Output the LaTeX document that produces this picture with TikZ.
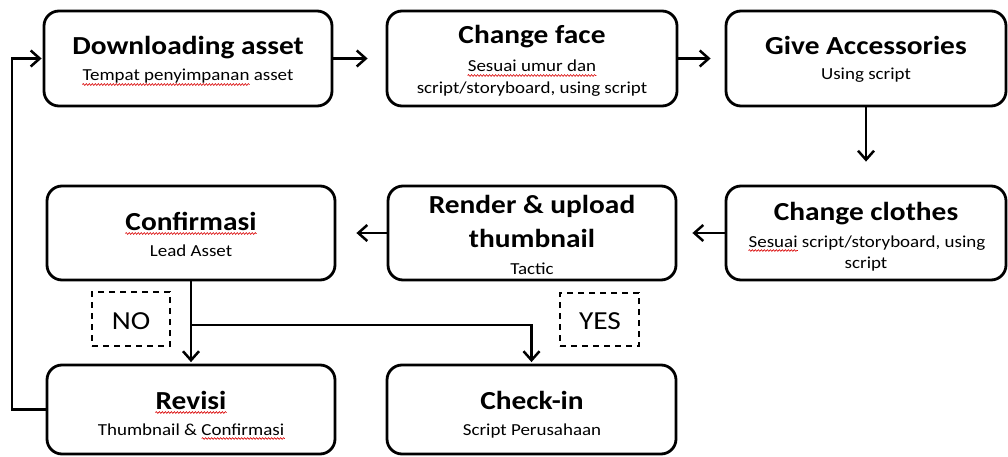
\documentclass[tikz,border=0pt]{standalone}
\usepackage{fontspec}
\setmainfont[FakeStretch=1.13]{Carlito}
\usetikzlibrary{arrows.meta,decorations.pathmorphing}
\tikzset{
  box/.style={draw, line width=2.8pt, rounded corners=15pt, inner sep=0pt},
  ttl/.style={anchor=base, inner sep=0pt, font=\fontsize{26}{34}\selectfont\bfseries},
  sub/.style={anchor=base, inner sep=0pt, font=\fontsize{16.8}{22}\selectfont},
  ph/.style={anchor=base west, inner sep=0pt},
  yn/.style={draw, line width=1.8pt, dash pattern=on 6pt off 5pt, inner sep=0pt},
  ynt/.style={anchor=base, inner sep=0pt, font=\fontsize{26}{30}\selectfont},
  arr/.style={line width=2.5pt, -{Straight Barb[length=9pt,width=16pt,line width=2.5pt]}},
  squig/.style={draw=red!85!black, line width=0.6pt, decorate,
    decoration={snake, amplitude=0.9pt, segment length=3pt}}
}
\newcommand\squ[1]{\draw[squig] ([yshift=-3.5pt]#1.base west) -- ([yshift=-3.5pt]#1.base east);}
\begin{document}
\begin{tikzpicture}[x=1pt,y=-1pt]
\useasboundingbox (0,0) rectangle (1008,457);
% boxes
\node[box, minimum width=288pt, minimum height=95pt] (dl) at (188,58.5) {};
\node[box, minimum width=290pt, minimum height=95pt] (cf) at (532,58.5) {};
\node[box, minimum width=280pt, minimum height=95pt] (ga) at (866,58.5) {};
\node[box, minimum width=280pt, minimum height=94pt] (cc) at (866,233) {};
\node[box, minimum width=288pt, minimum height=94pt] (ru) at (532,233) {};
\node[box, minimum width=288pt, minimum height=94pt] (co) at (191,233) {};
\node[box, minimum width=288pt, minimum height=89pt] (rv) at (191,409.5) {};
\node[box, minimum width=289pt, minimum height=89pt] (ci) at (531.5,409.5) {};
% texts
\node[ttl] (dlt) at (188,55) {Downloading asset};
\node[sub] (dls) at (188,81) {Tempat penyimpanan asset};
\node[ttl] (cft) at (532,44) {Change face};
\node[sub] (cfs1) at (532,72) {Sesuai umur dan};
\node[sub] (cfs2) at (532,94) {script/storyboard, using script};
\node[ttl] (gat) at (866,55) {Give Accessories};
\node[sub] (gas) at (866,80) {Using script};
\node[ttl] (cct) at (866,220) {Change clothes};
\node[sub] (ccs1) at (867,247) {Sesuai script/storyboard, using};
\node[sub] (ccs2) at (866,268) {script};
\node[ttl] (rut1) at (532,213) {Render \& upload};
\node[ttl] (rut2) at (532,247) {thumbnail};
\node[sub] (rus) at (532,274) {Tactic};
\node[ttl] (cot) at (191,230) {Confirmasi};
\node[sub] (cos) at (191,256) {Lead Asset};
\node[ttl] (rvt) at (191,409) {Revisi};
\node[sub] (rvs) at (191,435) {Thumbnail \& Confirmasi};
\node[ttl] (cit) at (532,409) {Check-in};
\node[sub] (cis) at (532,435) {Script Perusahaan};
% spell-check underlines (invisible measuring nodes)
\node[ph, font=\fontsize{16.8}{22}\selectfont] (u1) at (dls.base west) {\phantom{Tempat penyimpanan}};
\node[ph, font=\fontsize{16.8}{22}\selectfont] (u2) at (ccs1.base west) {\phantom{Sesuai}};
\node[ph, font=\fontsize{16.8}{22}\selectfont] (u3a) at (rvs.base west) {\phantom{Thumbnail \& }};
\node[ph, font=\fontsize{16.8}{22}\selectfont] (u3) at (u3a.base east) {\phantom{Confirmasi}};
\squ{u1}
\squ{cfs1}
\squ{u2}
\squ{cot}
\squ{rvt}
\squ{u3}
% yes / no
\node[yn, minimum width=78pt, minimum height=54pt] (no) at (131,319) {};
\node[ynt] (not) at (131,329) {NO};
\node[yn, minimum width=79pt, minimum height=53pt] (yes) at (599.5,319.5) {};
\node[ynt] (yest) at (600,329) {YES};
% connectors
\draw[arr, shorten >=18pt] (dl.east) -- (cf.west);
\draw[arr, shorten >=14pt] (cf.east) -- (ga.west);
\draw[arr, shorten >=23pt] (ga.south) -- (cc.north);
\draw[arr, shorten >=15pt] (cc.west) -- (ru.east);
\draw[arr, shorten >=20pt] (ru.west) -- (co.east);
\draw[arr, shorten >=1.5pt] (co.south) -- (rv.north);
\coordinate (br) at (191,325);
\draw[arr, shorten >=1.5pt] (br) -| (ci.north);
\coordinate (lp) at (12,409.5);
\draw[arr, shorten >=1pt] (rv.west) -- (lp) |- (dl.west);
\end{tikzpicture}
\end{document}
